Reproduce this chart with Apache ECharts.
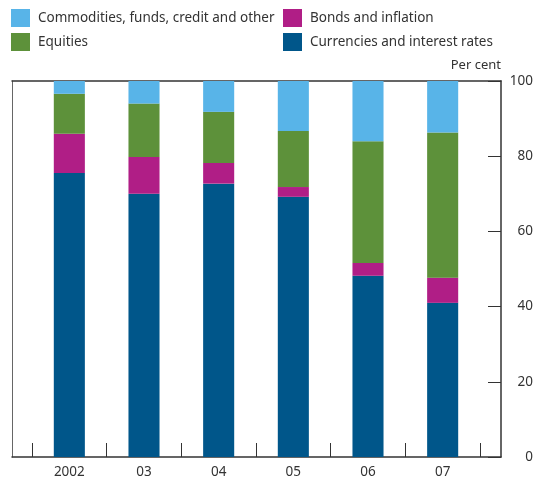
<!DOCTYPE html>
<html><head><meta charset="utf-8">
<script src="https://cdn.jsdelivr.net/npm/echarts@6/dist/echarts.min.js"></script>
<style>html,body{margin:0;padding:0;background:#fff}#c{width:538px;height:479px}</style>
</head><body><div id="c"></div>
<script>
var years = ['2002', '03', '04', '05', '06', '07'];
var currencies = [75.5, 70.0, 72.7, 69.2, 48.2, 41.0];
var bonds = [10.5, 9.8, 5.5, 2.6, 3.4, 6.7];
var equities = [10.6, 14.2, 13.6, 14.9, 32.4, 38.6];
var commodities = [3.4, 6.0, 8.2, 13.3, 16.0, 13.7];
var yTicks = [0, 20, 40, 60, 80, 100];

var FONT = 'Noto Sans';
var TXT = '#333';
var FS = 13.5;
var chart = echarts.init(document.getElementById('c'), null, {renderer: 'canvas'});
var lineStyle = {color: '#333', width: 1.5};
var legendText = {fontFamily: FONT, fontSize: FS, color: TXT, padding: [0, 0, 0, 3]};
chart.setOption({
  animation: false,
  textStyle: {fontFamily: FONT},
  title: {text: 'Per cent', right: 37, top: 59, padding: 0, textStyle: {fontFamily: FONT, fontSize: 13, fontWeight: 'normal', color: TXT}},
  legend: [
    {left: 11, top: 9, padding: 0, orient: 'vertical', itemWidth: 19, itemHeight: 18, itemGap: 6, icon: 'rect',
     textStyle: legendText, data: ['Commodities, funds, credit and other', 'Equities']},
    {left: 283, top: 9, padding: 0, orient: 'vertical', itemWidth: 19, itemHeight: 18, itemGap: 6, icon: 'rect',
     textStyle: legendText, data: ['Bonds and inflation', 'Currencies and interest rates']}
  ],
  grid: [
    {left: 12, right: 37, top: 81, bottom: 22},
    {left: 32, right: 58, top: 81, bottom: 22}
  ],
  xAxis: [
    {gridIndex: 0, type: 'value', min: 0, max: 1, position: 'bottom', axisLine: {show: true, onZero: false, lineStyle: lineStyle}, axisTick: {show: false}, axisLabel: {show: false}, splitLine: {show: false}},
    {gridIndex: 0, type: 'value', min: 0, max: 1, position: 'top', axisLine: {show: true, onZero: false, lineStyle: lineStyle}, axisTick: {show: false}, axisLabel: {show: false}, splitLine: {show: false}},
    {gridIndex: 1, type: 'category', data: years, position: 'bottom', boundaryGap: true,
     axisLine: {show: false, onZero: false}, axisTick: {show: true, inside: true, length: 14, interval: 0, lineStyle: {color: '#333', width: 1}},
     axisLabel: {fontFamily: FONT, fontSize: FS, color: TXT, margin: 8, interval: 0}, splitLine: {show: false}}
  ],
  yAxis: [
    {gridIndex: 0, type: 'value', position: 'right', min: 0, max: 100, interval: 20,
     axisLine: {show: true, onZero: false, lineStyle: lineStyle}, axisTick: {show: true, inside: true, length: 13, lineStyle: {color: '#333', width: 1}},
     axisLabel: {fontFamily: FONT, fontSize: FS, color: TXT, margin: 32, align: 'right',
       formatter: function (v) { return yTicks.indexOf(v) >= 0 ? String(v) : ''; }},
     splitLine: {show: false}},
    {gridIndex: 0, type: 'value', position: 'left', min: 0, max: 100,
     axisLine: {show: true, onZero: false, lineStyle: {color: '#666', width: 1}}, axisTick: {show: false}, axisLabel: {show: false}, splitLine: {show: false}},
    {gridIndex: 1, type: 'value', min: 0, max: 100, show: false}
  ],
  series: [
    {name: 'Currencies and interest rates', type: 'bar', stack: 's', xAxisIndex: 2, yAxisIndex: 2, barWidth: '41.6%', itemStyle: {color: '#00568a'}, data: currencies},
    {name: 'Bonds and inflation', type: 'bar', stack: 's', xAxisIndex: 2, yAxisIndex: 2, barWidth: '41.6%', itemStyle: {color: '#b01e86'}, data: bonds},
    {name: 'Equities', type: 'bar', stack: 's', xAxisIndex: 2, yAxisIndex: 2, barWidth: '41.6%', itemStyle: {color: '#5d913a'}, data: equities},
    {name: 'Commodities, funds, credit and other', type: 'bar', stack: 's', xAxisIndex: 2, yAxisIndex: 2, barWidth: '41.6%', itemStyle: {color: '#58b4e8'}, data: commodities}
  ]
});
</script></body></html>
